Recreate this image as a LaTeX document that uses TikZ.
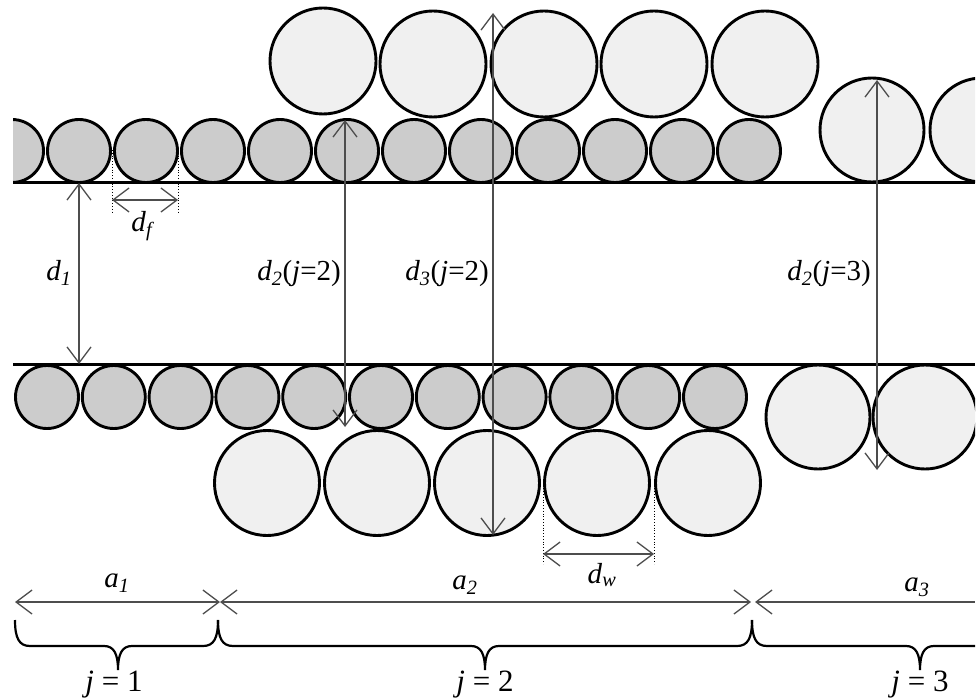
\documentclass[tikz,border=0pt]{standalone}
\usepackage{fontspec}
\setmainfont{Liberation Serif}
\usetikzlibrary{arrows.meta}
\definecolor{smallgray}{RGB}{204, 204, 204}
\definecolor{biggray}{RGB}{240, 240, 240}
\definecolor{arrowgray}{RGB}{77, 77, 77}
\newcommand{\isub}[2]{\textit{#1}\textsubscript{\textit{#2}}}
% brace: left end, tip, right end
\newcommand{\groupbrace}[3]{%
  \draw[bracepath] (#1,620) .. controls (#1,638) and (#1+4,646) .. (#1+15,646)
    -- (#2-14,646) .. controls (#2-4,646) and (#2,654) .. (#2,670)
    .. controls (#2,654) and (#2+4,646) .. (#2+14,646)
    -- (#3-15,646) .. controls (#3-4,646) and (#3,638) .. (#3,620);}

\begin{document}
\begin{tikzpicture}[x=1pt, y=-1pt,
  smallball/.style={draw=black, line width=2.9pt, fill=smallgray},
  bigball/.style={draw=black, line width=2.9pt, fill=biggray},
  wall/.style={draw=black, line width=3pt},
  dimline/.style={draw=arrowgray, line width=1.3pt,
    {Straight Barb[length=16pt,width=24pt]}-{Straight Barb[length=16pt,width=24pt]}},
  halfdim/.style={draw=arrowgray, line width=1.3pt,
    {Straight Barb[length=16pt,width=24pt]}-},
  guide/.style={draw=black, line width=0.8pt, dotted},
  bracepath/.style={draw=black, line width=2.2pt},
  lbl/.style={font=\fontsize{29}{32}\selectfont, inner sep=0pt},
  jlbl/.style={font=\fontsize{31}{34}\selectfont, inner sep=0pt}]
  \useasboundingbox (0,0) rectangle (979,700);

  \begin{scope}
    \clip (13,0) rectangle (975,700);
    % upper wall: small particles and big particles on top
    \foreach \k in {0,...,11}
      \draw[smallball] (12+67*\k,151) circle[radius=31.5];
    \draw[bigball] (323,61) circle[radius=53];
    \foreach \cx in {433,544,654,765}
      \draw[bigball] (\cx,64) circle[radius=53];
    \foreach \cx in {872,982}
      \draw[bigball] (\cx,130) circle[radius=52];

    % lower wall
    \foreach \k in {0,...,10}
      \draw[smallball] (47+66.8*\k,397) circle[radius=31.5];
    \foreach \cx in {267,377,487,597,708}
      \draw[bigball] (\cx,483) circle[radius=52.5];
    \foreach \cx in {818,925}
      \draw[bigball] (\cx,417) circle[radius=52];

    % groups j
    \groupbrace{15}{118}{218}
    \groupbrace{218}{485}{752}
    \groupbrace{752}{920}{1088}
  \end{scope}

  \draw[wall] (13,183) -- (975,183);
  \draw[wall] (13,364) -- (975,364);

  % gap and size arrows
  \coordinate (dOneTop) at (79,183);
  \coordinate (dOneBot) at (79,364);
  \coordinate (dTwoTop) at (345,120);
  \coordinate (dTwoBot) at (345,427);
  \coordinate (dThreeTop) at (493,13);
  \coordinate (dThreeBot) at (493,535);
  \coordinate (dTwoRTop) at (877,80);
  \coordinate (dTwoRBot) at (877,470);
  \draw[dimline] (dOneTop) -- (dOneBot);
  \draw[dimline] (dTwoTop) -- (dTwoBot);
  \draw[dimline] (dThreeTop) -- (dThreeBot);
  \draw[dimline] (dTwoRTop) -- (dTwoRBot);

  \node[lbl] (dOne) at (59,273) {\isub{d}{1}};
  \node[lbl, anchor=east] (dTwo) at (341,274) {\isub{d}{2}(\textit{j}=2)};
  \node[lbl, anchor=east] (dThree) at (489,274) {\isub{d}{3}(\textit{j}=2)};
  \node[lbl, anchor=east] (dTwoR) at (871,274) {\isub{d}{2}(\textit{j}=3)};

  % particle diameters
  \coordinate (dfL) at (112,200);
  \coordinate (dfR) at (178,200);
  \draw[guide] (112,150) -- (112,212);
  \draw[guide] (178,150) -- (178,212);
  \draw[dimline] (dfL) -- (dfR);
  \node[lbl] (df) at (143,226) {\isub{d}{f}};

  \coordinate (dwL) at (543,554);
  \coordinate (dwR) at (654,554);
  \draw[guide] (543,480) -- (543,564);
  \draw[guide] (654,480) -- (654,564);
  \draw[dimline] (dwL) -- (dwR);
  \node[lbl] (dw) at (602,575) {\isub{d}{w}};

  % segment lengths
  \coordinate (aA) at (15,602);
  \coordinate (aB) at (220,602);
  \coordinate (aC) at (751,602);
  \coordinate (aD) at (755,602);
  \coordinate (aE) at (975,602);
  \draw[dimline] (aA) -- (aB);
  \draw[dimline] (aB) -- (aC);
  \draw[halfdim] (aD) -- (aE);
  \node[lbl] (aOne) at (117,583) {\isub{a}{1}};
  \node[lbl] (aTwo) at (465,585) {\isub{a}{2}};
  \node[lbl] (aThree) at (917,587) {\isub{a}{3}};

  \node[jlbl] (jOne) at (114,685) {\textit{j} = 1};
  \node[jlbl] (jTwo) at (485,685) {\textit{j} = 2};
  \node[jlbl] (jThree) at (920,685) {\textit{j} = 3};
\end{tikzpicture}
\end{document}
